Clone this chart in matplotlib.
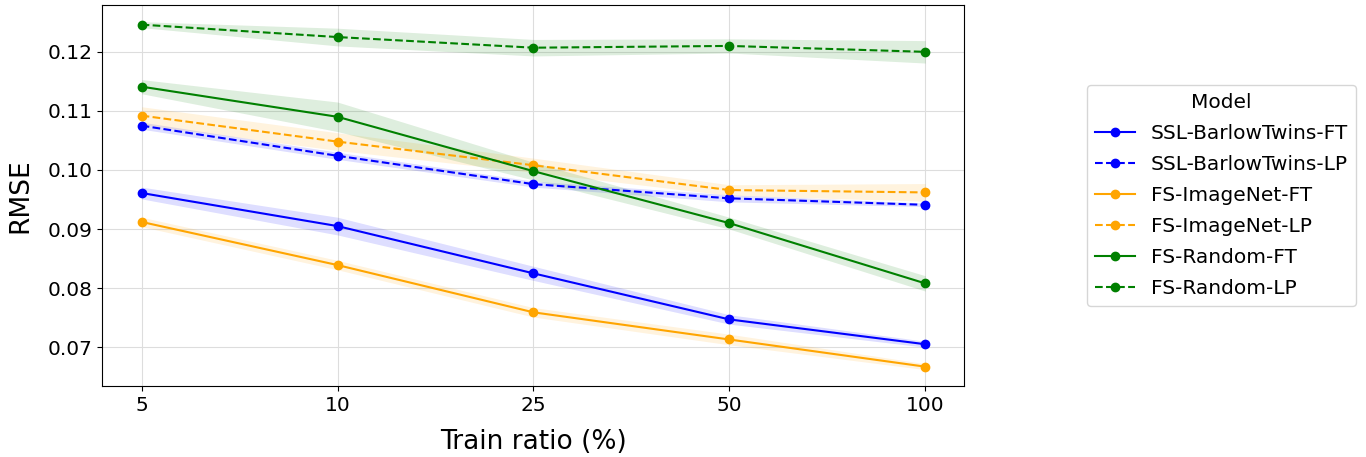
import numpy as np
import matplotlib.pyplot as plt

# train ratios (categorical x axis)
ratios = ['5', '10', '25', '50', '100']

models = ['SSL-BarlowTwins-FT', 'SSL-BarlowTwins-LP', 'FS-ImageNet-FT',
          'FS-ImageNet-LP', 'FS-Random-FT', 'FS-Random-LP']
colors = ['blue', 'blue', 'orange', 'orange', 'green', 'green']
styles = ['-', '--', '-', '--', '-', '--']

# mean RMSE per model
ssl_bt_ft = [0.0961, 0.0905, 0.0825, 0.0747, 0.0705]
ssl_bt_lp = [0.1075, 0.1024, 0.0976, 0.0952, 0.0941]
fs_in_ft = [0.0912, 0.0839, 0.0759, 0.0713, 0.0667]
fs_in_lp = [0.1092, 0.1048, 0.1008, 0.0966, 0.0962]
fs_rand_ft = [0.1141, 0.1090, 0.0998, 0.0910, 0.0808]
fs_rand_lp = [0.1246, 0.1225, 0.1207, 0.1210, 0.1200]

# half width of the shaded band
ssl_bt_ft_err = [0.0010, 0.0015, 0.0012, 0.0008, 0.0005]
ssl_bt_lp_err = [0.0006, 0.0006, 0.0005, 0.0006, 0.0003]
fs_in_ft_err = [0.0008, 0.0008, 0.0008, 0.0009, 0.0005]
fs_in_lp_err = [0.0015, 0.0015, 0.0012, 0.0009, 0.0015]
fs_rand_ft_err = [0.0012, 0.0025, 0.0015, 0.0010, 0.0013]
fs_rand_lp_err = [0.0005, 0.0015, 0.0014, 0.0012, 0.0019]

means = [ssl_bt_ft, ssl_bt_lp, fs_in_ft, fs_in_lp, fs_rand_ft, fs_rand_lp]
errs = [ssl_bt_ft_err, ssl_bt_lp_err, fs_in_ft_err, fs_in_lp_err, fs_rand_ft_err, fs_rand_lp_err]

x = np.arange(len(ratios))

fig, ax = plt.subplots(figsize=(13.66, 4.57), dpi=100)
for name, m, e, c, ls in zip(models, means, errs, colors, styles):
    m = np.array(m)
    e = np.array(e)
    ax.fill_between(x, m - e, m + e, color=c, alpha=0.13, linewidth=0)
    ax.plot(x, m, color=c, linestyle=ls, marker='o', markersize=6, linewidth=1.5, label=name)

ax.set_xticks(x)
ax.set_xticklabels(ratios)
ax.set_xlim(-0.2, 4.2)
ax.set_ylim(0.0634, 0.128)
ax.set_yticks([0.07, 0.08, 0.09, 0.10, 0.11, 0.12])
ax.tick_params(labelsize=14.5)
ax.grid(True, color='#dddddd', linewidth=0.8)
ax.set_axisbelow(True)
ax.set_xlabel('Train ratio (%)', fontsize=19, labelpad=10)
ax.set_ylabel('RMSE', fontsize=19, labelpad=10)
leg = ax.legend(title='Model', fontsize=14.5, title_fontsize=14.5,
                loc='center left', bbox_to_anchor=(1.13, 0.5),
                labelspacing=0.6)

plt.subplots_adjust(left=0.075, right=0.706, top=0.99, bottom=0.155)
plt.savefig('out.png')
